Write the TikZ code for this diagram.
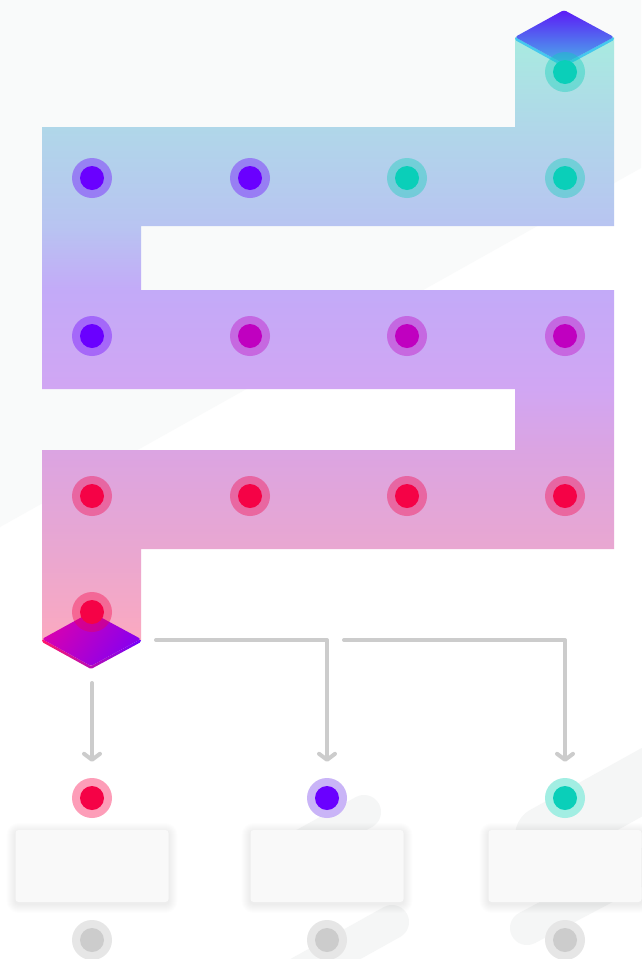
\documentclass[tikz,border=0pt]{standalone}
\usetikzlibrary{arrows.meta}

% page and background tones
\definecolor{bgwash}{HTML}{F9FAFA}
\definecolor{streak}{HTML}{F5F6F6}
% serpentine band, top to bottom
\definecolor{bandA}{HTML}{A8EBE0}
\definecolor{bandB}{HTML}{B0D7E9}
\definecolor{bandC}{HTML}{B8C4F1}
\definecolor{bandD}{HTML}{C3AAF8}
\definecolor{bandE}{HTML}{D1A6F3}
\definecolor{bandF}{HTML}{DBA4E2}
\definecolor{bandG}{HTML}{E9A7D1}
\definecolor{bandH}{HTML}{FBA9C0}
% markers
\definecolor{violet}{HTML}{6A00FF}
\definecolor{teal}{HTML}{0ACFB9}
\definecolor{magenta}{HTML}{C000C0}
\definecolor{crimson}{HTML}{F50246}
\definecolor{pinkhalo}{HTML}{FD9DB8}
\definecolor{violethalo}{HTML}{C9B4F7}
\definecolor{tealhalo}{HTML}{A2EEE3}
\definecolor{greyhalo}{HTML}{E6E6E6}
\definecolor{greycore}{HTML}{CCCCCC}
% diamonds
\definecolor{entryTop}{HTML}{5C1AF6}
\definecolor{entryBot}{HTML}{4AB2EA}
\definecolor{entryRim}{HTML}{45C8EE}
\definecolor{exitA}{HTML}{D800B0}
\definecolor{exitB}{HTML}{8600F0}
\definecolor{exitRimL}{HTML}{FF1A6A}
\definecolor{exitRimR}{HTML}{7000FF}
% connectors and cards
\definecolor{wire}{HTML}{CCCCCC}
\definecolor{cardfill}{HTML}{F9F9F9}

\pgfdeclareverticalshading{bandfade}{100bp}{%
  color(0bp)=(bandH); color(25bp)=(bandH); color(32.5bp)=(bandG);
  color(40.8bp)=(bandF); color(45.8bp)=(bandE); color(54bp)=(bandD);
  color(59.3bp)=(bandC); color(67.5bp)=(bandB); color(75bp)=(bandA);
  color(100bp)=(bandA)}

\tikzset{
  halo/.style={circle, inner sep=0pt, minimum size=40pt, fill=#1, fill opacity=0.38},
  solidhalo/.style={circle, inner sep=0pt, minimum size=40pt, fill=#1},
  core/.style={circle, inner sep=0pt, minimum size=24pt, fill=#1},
  feed/.style={draw=wire, line width=4pt, line cap=round, line join=round,
    shorten >=16pt, -{Straight Barb[length=6pt,width=16pt,round]}},
  card/.style={fill=cardfill, rounded corners=3pt, inner sep=0pt,
    minimum width=153pt, minimum height=72pt},
  streakline/.style={draw=streak, line width=#1, line cap=round},
}

% a marker on the band: translucent halo plus solid core
\newcommand\waydot[3]{%
  \node[halo=#3] (#1) at (#2) {};
  \node[core=#3] at (#1.center) {};}
% a marker below the band: opaque halo plus solid core
\newcommand\outdot[4]{%
  \node[solidhalo=#3] (#1) at (#2) {};
  \node[core=#4] at (#1.center) {};}
% soft shadow under a card: stacked faint rounded rectangles
\newcommand\softshadow[2]{%
  \foreach \g in {1,...,9}{%
    \fill[black, fill opacity=0.007, rounded corners={3pt+\g pt}]
      ($(#1)+(-76.5-\g,-36-\g+2)$) rectangle ($(#1)+(76.5+\g,36+\g+2)$);}}

\usetikzlibrary{calc}

\begin{document}
\begin{tikzpicture}[x=1pt,y=-1pt]
\useasboundingbox (0,0) rectangle (641,959);

% background with a soft diagonal wash
\fill[white] (0,0) rectangle (641,959);
\fill[bgwash] (0,0) -- (641,0) -- (641,168) -- (0,527) -- cycle;
\draw[streakline=34pt] (364,812) -- (290,853);
\draw[streakline=34pt] (392,922) -- (250,1001);
\draw[streakline=60pt] (700,750) -- (545,836);
\draw[streakline=34pt] (760,805) -- (527,928);

% serpentine band
\shade[shading=bandfade]
  (515,37) -- (614,37) -- (614,226) -- (141,226) -- (141,290) -- (614,290)
  -- (614,549) -- (141,549) -- (141,640) -- (42,640) -- (42,450) -- (515,450)
  -- (515,389) -- (42,389) -- (42,127) -- (515,127) -- cycle;

% entry tile
\fill[entryRim, rounded corners=1.5pt]
  (515,37) -- (564,64) -- (614,37) -- (614,40) -- (564,67) -- (515,40) -- cycle;
\shade[top color=entryTop, bottom color=entryBot, rounded corners=2.5pt]
  (564,10) -- (614,37) -- (564,64) -- (515,37) -- cycle;
\coordinate (entry) at (564,37);

% exit tile
\shade[left color=exitRimL, right color=exitRimR, rounded corners=1.5pt]
  (42,639) -- (91,666) -- (141,639) -- (141,642) -- (91,669) -- (42,642) -- cycle;
\shade[top color=exitA, bottom color=exitB, shading angle=55, rounded corners=2.5pt]
  (91,612) -- (141,639) -- (91,666) -- (42,639) -- cycle;
\coordinate (exit) at (91,639);

% markers along the band
\waydot{start}{565,72}{teal}
\waydot{r1c1}{92,178}{violet}
\waydot{r1c2}{250,178}{violet}
\waydot{r1c3}{407,178}{teal}
\waydot{r1c4}{565,178}{teal}
\waydot{r2c1}{92,336}{violet}
\waydot{r2c2}{250,336}{magenta}
\waydot{r2c3}{407,336}{magenta}
\waydot{r2c4}{565,336}{magenta}
\waydot{r3c1}{92,496}{crimson}
\waydot{r3c2}{250,496}{crimson}
\waydot{r3c3}{407,496}{crimson}
\waydot{r3c4}{565,496}{crimson}
\waydot{finish}{92,612}{crimson}

% outcome cards
\coordinate (cardAc) at (92,866);
\coordinate (cardBc) at (327,866);
\coordinate (cardCc) at (565,866);
\softshadow{cardAc}{}
\softshadow{cardBc}{}
\softshadow{cardCc}{}
\node[card] (cardA) at (cardAc) {};
\node[card] (cardB) at (cardBc) {};
\node[card] (cardC) at (cardCc) {};

% outcome markers
\outdot{outA}{92,798}{pinkhalo}{crimson}
\outdot{outB}{327,798}{violethalo}{violet}
\outdot{outC}{565,798}{tealhalo}{teal}
\outdot{tailA}{92,940}{greyhalo}{greycore}
\outdot{tailB}{327,940}{greyhalo}{greycore}
\outdot{tailC}{565,940}{greyhalo}{greycore}

% branches from the exit tile
\coordinate (splitA) at (92,683);
\coordinate (splitB) at (156,640);
\coordinate (splitC) at (344,640);
\draw[feed] (splitA) -- (splitA |- outA.north);
\draw[feed] (splitB) -| (outB.north);
\draw[feed] (splitC) -| (outC.north);
\end{tikzpicture}
\end{document}
